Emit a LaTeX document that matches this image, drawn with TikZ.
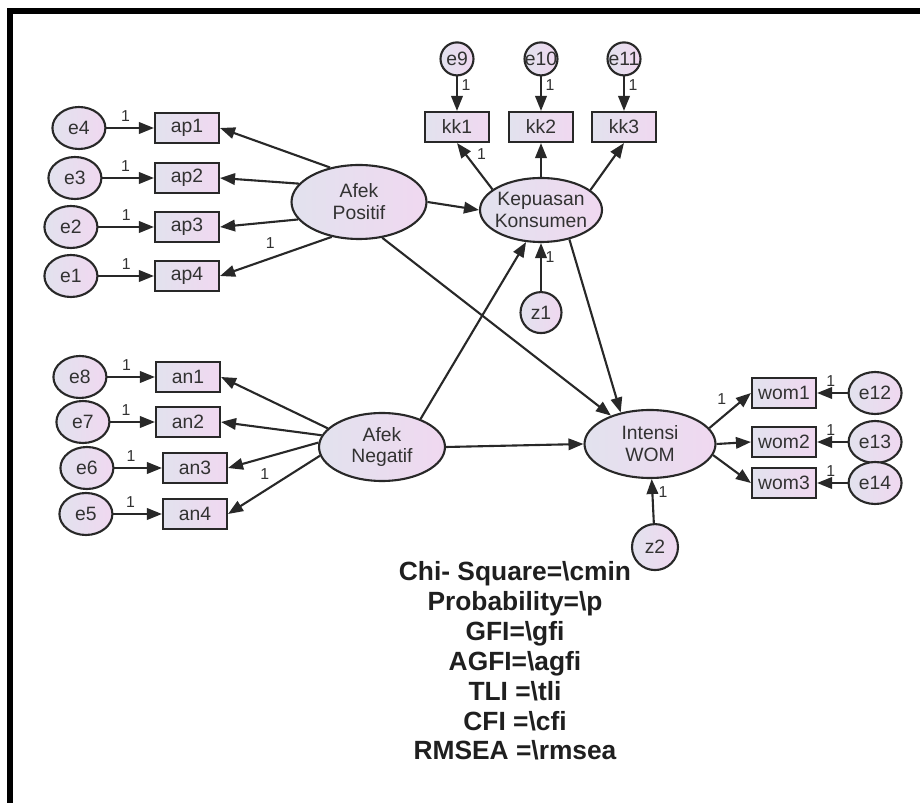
\documentclass[tikz,border=0pt]{standalone}
\usepackage{fontspec}
\setmainfont{Liberation Sans}
\usepackage{xcolor}
\usetikzlibrary{positioning,arrows.meta,shapes.geometric}

\definecolor{fillL}{RGB}{226,226,238}
\definecolor{fillR}{RGB}{240,216,240}
\definecolor{ink}{RGB}{40,40,40}
\definecolor{txt}{RGB}{50,50,50}

\begin{document}
\begin{tikzpicture}[
    x=0.02cm, y=-0.02cm,
    >={Triangle[length=3mm,width=2.3mm]},
    tint/.style={left color=fillL, right color=fillR},
    obs/.style={draw=ink, line width=1.2pt, tint, minimum width=1.28cm, minimum height=0.6cm, inner sep=0pt, font=\fontsize{11}{12.5}\selectfont, text=txt},
    lat/.style={ellipse, draw=ink, line width=1.2pt, tint, inner xsep=-3pt, inner ysep=0pt, align=center, font=\fontsize{11}{12.5}\selectfont, text=txt},
    err/.style={ellipse, draw=ink, line width=1.2pt, tint, minimum width=1.06cm, minimum height=0.84cm, inner sep=0pt, font=\fontsize{11}{12.5}\selectfont, text=txt},
    errs/.style={circle, draw=ink, line width=1.2pt, tint, minimum size=0.66cm, inner sep=0pt, font=\fontsize{11}{12.5}\selectfont, text=txt},
    res/.style={circle, draw=ink, line width=1.2pt, tint, minimum size=0.84cm, inner sep=0pt, font=\fontsize{11}{12.5}\selectfont, text=txt},
    arrow/.style={->, draw=ink, line width=1.2pt},
    one/.style={font=\fontsize{9}{9}\selectfont, text=txt, inner sep=1pt},
    stats/.style={font=\bfseries\fontsize{15}{17}\selectfont, align=center, text=black!88},
]
\useasboundingbox (0,0) rectangle (920,803);
\draw[line width=0.12cm] (10,803) -- (10,11) -- (920,11);

% latent variables
\node[lat, minimum width=2.7cm, minimum height=1.48cm] (AP) at (359,202) {Afek\\Positif};
\node[lat, minimum width=2.44cm, minimum height=1.28cm] (KK) at (541,210) {Kepuasan\\Konsumen};
\node[lat, minimum width=2.52cm, minimum height=1.36cm] (AN) at (382,447) {Afek\\Negatif};
\node[lat, minimum width=2.62cm, minimum height=1.36cm] (IW) at (650,444) {Intensi\\WOM};

% indicators
\node[obs] (ap1) at (187,128) {ap1};
\node[obs] (ap2) at (187,178) {ap2};
\node[obs] (ap3) at (187,227) {ap3};
\node[obs] (ap4) at (187,276) {ap4};
\node[obs] (an1) at (188,377) {an1};
\node[obs] (an2) at (188,422) {an2};
\node[obs] (an3) at (195,468) {an3};
\node[obs] (an4) at (195,514) {an4};
\node[obs] (kk1) at (457,127) {kk1};
\node[obs] (kk2) at (541,127) {kk2};
\node[obs] (kk3) at (624,127) {kk3};
\node[obs] (wom1) at (784,393) {wom1};
\node[obs] (wom2) at (784,442) {wom2};
\node[obs] (wom3) at (784,483) {wom3};

% errors
\node[err, left=0.95cm of ap1] (e4) {e4};
\node[err, left=1.03cm of ap2] (e3) {e3};
\node[err, left=1.11cm of ap3] (e2) {e2};
\node[err, left=1.11cm of ap4] (e1) {e1};
\node[err, left=0.95cm of an1] (e8) {e8};
\node[err, left=0.89cm of an2] (e7) {e7};
\node[err, left=0.95cm of an3] (e6) {e6};
\node[err, left=0.97cm of an4] (e5) {e5};
\node[errs, above=0.69cm of kk1] (e9) {\makebox[0pt]{e9}};
\node[errs, above=0.69cm of kk2] (e10) {\makebox[0pt]{e10}};
\node[errs, above=0.69cm of kk3] (e11) {\makebox[0pt]{e11}};
\node[err, right=0.61cm of wom1] (e12) {e12};
\node[err, right=0.61cm of wom2] (e13) {e13};
\node[err, right=0.61cm of wom3] (e14) {e14};
\node[res, minimum size=0.82cm, below=0.96cm of KK] (z1) {z1};
\node[res, minimum size=0.92cm, below=0.88cm of IW, xshift=0.1cm] (z2) {z2};

\node[stats] (fit) at (515,661) {Chi- Square=\textbackslash cmin\\Probability=\textbackslash p\\GFI=\textbackslash gfi\\AGFI=\textbackslash agfi\\TLI =\textbackslash tli\\CFI =\textbackslash cfi\\RMSEA =\textbackslash rmsea};

% error paths
\draw[arrow] (e4) -- node[one, above=2pt, pos=0.4] {1} (ap1);
\draw[arrow] (e3) -- node[one, above=2pt, pos=0.45] {1} (ap2);
\draw[arrow] (e2) -- node[one, above=2pt, pos=0.5] {1} (ap3);
\draw[arrow] (e1) -- node[one, above=2pt, pos=0.5] {1} (ap4);
\draw[arrow] (e8) -- node[one, above=2pt, pos=0.4] {1} (an1);
\draw[arrow] (e7) -- node[one, above=2pt, pos=0.35] {1} (an2);
\draw[arrow] (e6) -- node[one, above=2pt, pos=0.35] {1} (an3);
\draw[arrow] (e5) -- node[one, above=2pt, pos=0.35] {1} (an4);
\draw[arrow] (e9) -- node[one, right=1pt, pos=0.25] {1} (kk1);
\draw[arrow] (e10) -- node[one, right=1pt, pos=0.25] {1} (kk2);
\draw[arrow] (e11) -- node[one, right=1pt, pos=0.25] {1} (kk3);
\draw[arrow] (e12) -- node[one, above=2pt, pos=0.55] {1} (wom1);
\draw[arrow] (e13) -- node[one, above=2pt, pos=0.55] {1} (wom2);
\draw[arrow] (e14) -- node[one, above=2pt, pos=0.55] {1} (wom3);
\draw[arrow] (z1) -- node[one, right=1pt, pos=0.7] {1} (KK);
\draw[arrow] (z2) -- node[one, right=2pt, pos=0.7] {1} (IW);

% loadings
\draw[arrow] (AP.130) -- (ap1.east);
\draw[arrow] (AP.163) -- (ap2.east);
\draw[arrow] (AP.196) -- (ap3.east);
\draw[arrow] (AP.232) -- node[one, above=4pt, pos=0.55] {1} (ap4.east);
\draw[arrow] (AN.161) -- (an1.east);
\draw[arrow] (AN.169) -- (an2.east);
\draw[arrow] (AN.176) -- (an3.east);
\draw[arrow] (AN.188) -- node[one, above=5pt, pos=0.6] {1} (an4.east);
\draw[arrow] (KK.157) -- node[one, right=5pt, pos=0.76] {1} (kk1.south);
\draw[arrow] (KK.north) -- (kk2.south);
\draw[arrow] (KK.22) -- (kk3.south);
\draw[arrow] (IW.15) -- node[one, above=6pt, pos=0.3] {1} (wom1.west);
\draw[arrow] (IW.east) -- (wom2.west);
\draw[arrow] (IW.350) -- (wom3.west);

% structural paths
\draw[arrow] (AP.east) -- (KK.west);
\draw[arrow] (AP.303) -- (IW.144);
\draw[arrow] (KK.314) -- (IW.133);
\draw[arrow] (AN.36) -- (KK.245);
\draw[arrow] (AN.east) -- (IW.west);
\end{tikzpicture}
\end{document}
